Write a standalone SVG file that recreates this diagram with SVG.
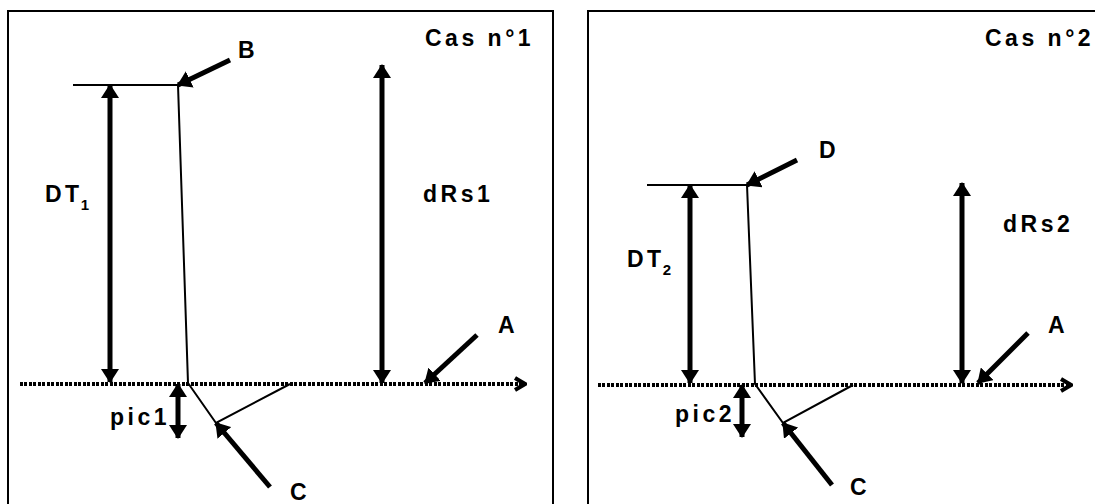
<svg xmlns="http://www.w3.org/2000/svg" width="1095" height="504" viewBox="0 0 1095 504">
<defs>
<style>
.box{fill:none;stroke:#000;stroke-width:2}
.thin{fill:none;stroke:#000;stroke-width:2}
.dbl{fill:none;stroke:#000;stroke-width:5;marker-start:url(#ah);marker-end:url(#ah)}
.one{fill:none;stroke:#000;stroke-width:5;marker-end:url(#ah)}
.dots{fill:none;stroke:#000;stroke-width:4;stroke-dasharray:3 1 3 2;marker-end:url(#chev)}
text{font-family:"Liberation Sans",Arial,sans-serif;font-weight:bold;font-size:23px;letter-spacing:3.5px;fill:#000}
.sub{font-size:15px;letter-spacing:0}
</style>
<marker id="ah" viewBox="0 0 14 18" refX="13" refY="9" markerWidth="14" markerHeight="18" markerUnits="userSpaceOnUse" orient="auto-start-reverse">
<path d="M0,0 L14,9 L0,18 z" fill="#000"/>
</marker>
<marker id="chev" viewBox="0 0 14 16" refX="12" refY="8" markerWidth="14" markerHeight="16" markerUnits="userSpaceOnUse" orient="auto">
<path d="M2,2 L12,8 L2,14" fill="none" stroke="#000" stroke-width="4" stroke-linejoin="miter"/>
</marker>
</defs>

<g id="panel1">
<rect id="box1" class="box" x="8" y="11" width="545" height="520"/>
<g id="surface1">
<line class="thin" x1="73" y1="85" x2="178" y2="85"/>
<polyline class="thin" points="178,85 188,383 216,423 290,384"/>
</g>
<g id="connectors1">
<line class="dots" x1="20" y1="384" x2="525" y2="384"/>
<line class="dbl" x1="110" y1="85" x2="110" y2="382"/>
<line class="dbl" x1="382" y1="65" x2="382" y2="383"/>
<line class="dbl" x1="178" y1="384" x2="178" y2="438"/>
<line class="one" x1="230" y1="60" x2="178" y2="85"/>
<line class="one" x1="477" y1="335" x2="425" y2="383"/>
<line class="one" x1="270" y1="487" x2="216" y2="423"/>
</g>
<g id="labels1">
<text x="425" y="46">Cas n°1</text>
<text x="238" y="58">B</text>
<text x="45" y="202">DT<tspan class="sub" dx="-2" dy="8">1</tspan></text>
<text x="423" y="202">dRs1</text>
<text x="498" y="333">A</text>
<text x="110" y="425">pic1</text>
<text x="290" y="500">C</text>
</g>
</g>

<g id="panel2">
<rect id="box2" class="box" x="588" y="11" width="520" height="520"/>
<g id="surface2">
<line class="thin" x1="647" y1="185" x2="747" y2="185"/>
<polyline class="thin" points="747,185 755,384 783,423 853,385"/>
</g>
<g id="connectors2">
<line class="dots" x1="598" y1="385" x2="1071" y2="385"/>
<line class="dbl" x1="690" y1="185" x2="690" y2="383"/>
<line class="dbl" x1="962" y1="183" x2="962" y2="383"/>
<line class="dbl" x1="742" y1="385" x2="742" y2="437"/>
<line class="one" x1="797" y1="160" x2="747" y2="185"/>
<line class="one" x1="1028" y1="333" x2="978" y2="383"/>
<line class="one" x1="832" y1="485" x2="783" y2="423"/>
</g>
<g id="labels2">
<text x="985" y="46">Cas n°2</text>
<text x="819" y="158">D</text>
<text x="627" y="267">DT<tspan class="sub" dx="-2" dy="8">2</tspan></text>
<text x="1003" y="232">dRs2</text>
<text x="1048" y="333">A</text>
<text x="675" y="422">pic2</text>
<text x="850" y="495">C</text>
</g>
</g>
</svg>
